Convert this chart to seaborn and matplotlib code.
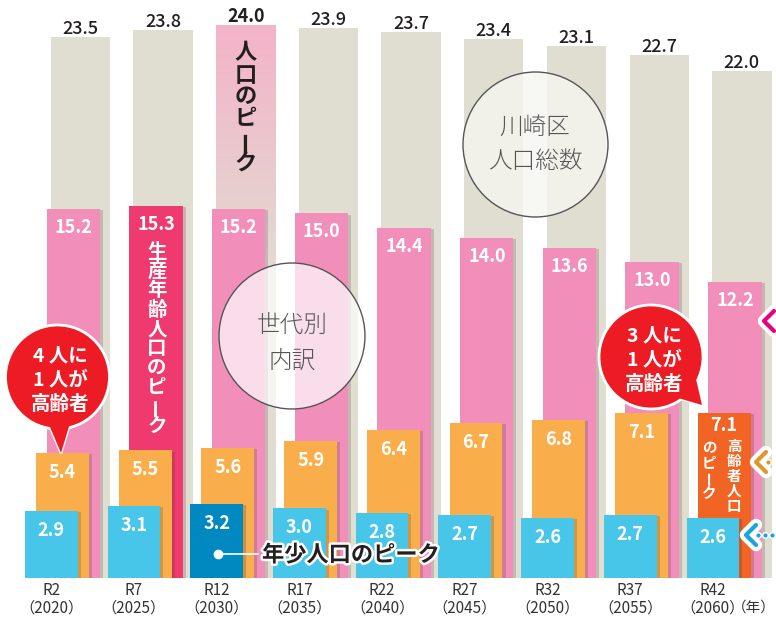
import numpy as np
import matplotlib
matplotlib.use('Agg')
import matplotlib.pyplot as plt
import seaborn as sns
from matplotlib import patheffects as pe
from matplotlib.patches import Ellipse, Polygon
from matplotlib.lines import Line2D
from matplotlib.colors import LinearSegmentedColormap

# 川崎区の将来人口（万人）
periods = ['R2', 'R7', 'R12', 'R17', 'R22', 'R27', 'R32', 'R37', 'R42']
years = ['2020', '2025', '2030', '2035', '2040', '2045', '2050', '2055', '2060']
total = [23.5, 23.8, 24.0, 23.9, 23.7, 23.4, 23.1, 22.7, 22.0]
working = [15.2, 15.3, 15.2, 15.0, 14.4, 14.0, 13.6, 13.0, 12.2]
elderly = [5.4, 5.5, 5.6, 5.9, 6.4, 6.7, 6.8, 7.1, 7.1]
young = [2.9, 3.1, 3.2, 3.0, 2.8, 2.7, 2.6, 2.7, 2.6]

PEAK_TOTAL, PEAK_WORK, PEAK_OLD, PEAK_YOUNG = 2, 1, 8, 2

BEIGE = '#E0DED0'
PINK, PINK_DARK = '#F18EBA', '#EE3A6E'
ORANGE, ORANGE_DARK = '#FAAE4B', '#F26423'
BLUE, BLUE_DARK = '#48C6E9', '#0088C0'
INK = '#231F20'

sns.set_theme(style='white')
plt.rcParams['font.family'] = ['Noto Sans CJK JP', 'DejaVu Sans']

W, H = 776, 618


def fx(x):
    return x / W


def fy(y):
    return 1 - y / H


fig = plt.figure(figsize=(W / 100, H / 100), dpi=100)
rect = [0, 40 / H, 1, 578 / H]
ax = fig.add_axes(rect)
ax_mid = ax.twinx()
ax_front = ax.twinx()

idx = np.arange(len(periods))
pos_total = idx
pos_work = idx - 0.085
pos_old = idx - 0.215
pos_young = idx - 0.351

shadow = [pe.SimplePatchShadow(offset=(2.2, -0.8), alpha=0.2), pe.Normal()]


def layer(a, pos, vals, width, color, peak, peak_color, shade=True):
    n0 = len(a.patches)
    sns.barplot(x=pos, y=vals, native_scale=True, width=width, color=color,
                saturation=1, linewidth=0, errorbar=None, ax=a)
    bars = a.patches[n0:]
    bars[peak].set_facecolor(peak_color)
    if shade:
        for b in bars:
            b.set_path_effects(shadow)
    return bars


def values(a, pos, vals, dy, color, bold_idx=None, size=13, peak_dy=None):
    for i, v in enumerate(vals):
        off = dy if (peak_dy is None or i != bold_idx) else peak_dy
        if color == 'white' or i == bold_idx:
            weight = 'bold'
        else:
            weight = 'medium'
        a.annotate(f'{v:.1f}', (pos[i], v), xytext=(0, off),
                   textcoords='offset pixels', ha='center', va='baseline',
                   fontsize=size, color=color, fontweight=weight)


back = layer(ax, pos_total, total, 0.717, BEIGE, PEAK_TOTAL, BEIGE, shade=False)
layer(ax_mid, pos_work, working, 0.645, PINK, PEAK_WORK, PINK_DARK)
layer(ax_front, pos_old, elderly, 0.64, ORANGE, PEAK_OLD, ORANGE_DARK)
layer(ax_front, pos_young, young, 0.637, BLUE, PEAK_YOUNG, BLUE_DARK)

# gradient on the total-population peak bar
b = back[PEAK_TOTAL]
t = np.linspace(0, 1, 256)
wgt = np.clip((t - 0.55) / 0.45, 0, 1)
cmap = LinearSegmentedColormap.from_list('peak', ['#E1DCD1', '#F4B3C9'])
im = ax.imshow(wgt.reshape(-1, 1), origin='lower', cmap=cmap, vmin=0, vmax=1,
               extent=(b.get_x(), b.get_x() + b.get_width(), 0, b.get_height()),
               aspect='auto', zorder=b.get_zorder() + 0.1)
im.set_clip_path(b)

xlim = (-80.3 / 82.7, (W - 80.3) / 82.7)
for a, scale in [(ax, 23.03), (ax_mid, 24.3), (ax_front, 23.2)]:
    a.set_xlim(*xlim)
    a.set_ylim(0, 578 / scale)
    a.set_yticks([])
    a.set_xlabel('')
    a.set_ylabel('')
    for s in a.spines.values():
        s.set_visible(False)
ax_mid.xaxis.set_visible(False)
ax_front.xaxis.set_visible(False)

values(ax, pos_total, total, 3, INK, bold_idx=PEAK_TOTAL)
values(ax_mid, pos_work, working, -24, 'white')
values(ax_front, pos_old, elderly, -25, 'white', bold_idx=PEAK_OLD, peak_dy=-18)
values(ax_front, pos_young, young, -25, 'white')

ax.set_xticks(pos_young)
ax.set_xticklabels([f'{p}\n（{y}）' for p, y in zip(periods, years)], linespacing=1.05)
ax.tick_params(axis='x', length=0, pad=3, labelsize=11, labelcolor='#333333')
fig.text(fx(776), fy(608), '（年）', ha='right', va='center', fontsize=10.5,
         color='#333333')


def vtext(x, y0, s, pitch, **kw):
    for k, ch in enumerate(s):
        fig.text(fx(x), fy(y0 + k * pitch), ch, rotation=90 if ch == 'ー' else 0,
                 ha='center', va='center', **kw)


def lines(x, y0, pitch, rows, **kw):
    for k, r in enumerate(rows):
        fig.text(fx(x), fy(y0 + k * pitch), r, ha='center', va='center', **kw)


def circle(cx, cy, r, **kw):
    fig.add_artist(Ellipse((fx(cx), fy(cy)), 2 * r / W, 2 * r / H,
                           transform=fig.transFigure, **kw))


# peak labels
vtext(246, 53, '人口のピーク', 22, fontsize=16, fontweight='bold', color=INK)
vtext(157, 252, '生産年齢人口のピーク', 19.4, fontsize=14, fontweight='bold', color='white')
vtext(734, 446, '高齢者人口', 15, fontsize=10.5, fontweight='bold', color='white')
vtext(709, 447, 'のピーク', 15.2, fontsize=10.5, fontweight='bold', color='white')

fig.add_artist(Line2D([fx(218), fx(258)], [fy(554), fy(554)], color='white', lw=1.2,
                      transform=fig.transFigure))
fig.add_artist(Line2D([fx(218)], [fy(554)], marker='o', ms=6, color='white', lw=0,
                      transform=fig.transFigure))
fig.text(fx(262), fy(555), '年少人口のピーク', ha='left', va='center', fontsize=16,
         fontweight='bold', color=INK,
         path_effects=[pe.withStroke(linewidth=3.5, foreground='white')])

# guide circles
circle(535.5, 144.5, 72.5, fc='#F6F6F1', alpha=0.8, ec='none')
circle(535.5, 144.5, 72.5, fc='none', ec='#555555', lw=1)
lines(535, 127, 35, ['川崎区', '人口総数'], fontsize=17, color='#555555', fontweight='light')
circle(292, 336, 73, fc='white', alpha=0.7, ec='none')
circle(292, 336, 73, fc='none', ec='#555555', lw=1)
lines(292, 325, 36, ['世代別', '内訳'], fontsize=17, color='#555555', fontweight='light')

# red speech bubbles
RED = '#ED1C24'
bubbles = [((57.5, 377, 52), [(47, 420), (71, 420), (61, 453)], '4 人に'),
           ((651, 357, 52), [(678, 398), (696, 379), (702, 405)], '3 人に')]
for (cx, cy, r), tail, first in bubbles:
    pts = [(fx(px), fy(py)) for px, py in tail]
    fig.add_artist(Polygon(pts, closed=True, fc=RED, ec='white', lw=2,
                           transform=fig.transFigure))
    circle(cx, cy, r, fc=RED, ec='white', lw=2)
    fig.add_artist(Polygon(pts, closed=True, fc=RED, ec='none',
                           transform=fig.transFigure))
    lines(cx + 3, cy - 21, 24, [first, '1 人が', '高齢者'], fontsize=14,
          fontweight='bold', color='white')

# partially visible legend arrows at the right edge
for y, tip, col, ndots in [(321, 764, '#E4007F', 0), (462, 756, '#E0962A', 1),
                           (535, 746, '#1BA3DC', 3)]:
    xs = [fx(tip + 10), fx(tip), fx(tip + 10)]
    ys = [fy(y - 10), fy(y), fy(y + 10)]
    fig.add_artist(Line2D(xs, ys, color='white', lw=9, solid_capstyle='round',
                          solid_joinstyle='round', transform=fig.transFigure))
    fig.add_artist(Line2D(xs, ys, color=col, lw=3, solid_capstyle='round',
                          transform=fig.transFigure))
    for k in range(ndots):
        fig.add_artist(Line2D([fx(tip + 12 + 7 * k)], [fy(y)], marker='o', ms=4,
                              color=col, mec='white', mew=1, lw=0,
                              transform=fig.transFigure))

fig.savefig('out.png', dpi=100)
